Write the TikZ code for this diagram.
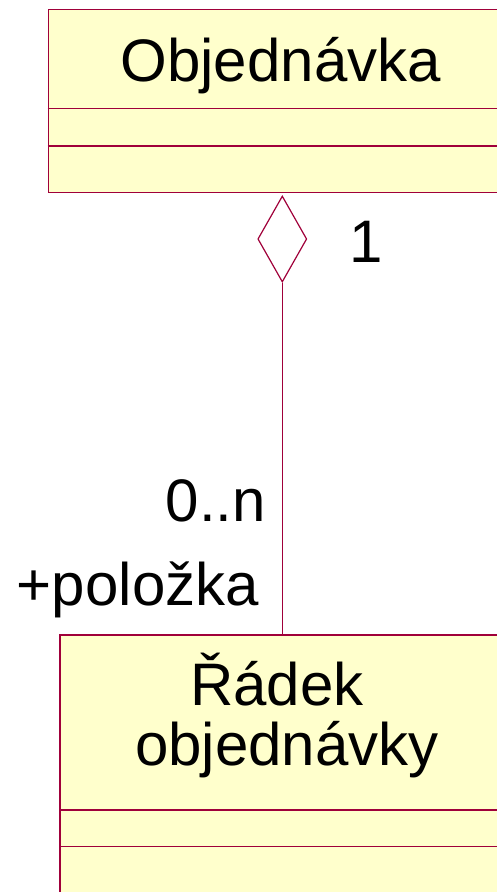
\documentclass[tikz,border=0pt]{standalone}
\usepackage{fontspec}
\setmainfont{Liberation Sans}
\usetikzlibrary{shapes.geometric}
\definecolor{umlline}{HTML}{A0003A}
\definecolor{umlfill}{HTML}{FFFFCC}
\tikzset{
  classbox/.style={draw=umlline, fill=umlfill, line width=1.5pt, rectangle, inner sep=0pt, anchor=north west},
  compline/.style={draw=umlline, line width=1.4pt},
  lbl/.style={inner sep=0pt, font=\fontsize{60}{60}\selectfont, text=black},
  aggdiamond/.style={draw=umlline, fill=white, line width=1.2pt, diamond, inner sep=0pt, minimum width=49pt, minimum height=86pt},
  assoc/.style={draw=umlline, line width=1.2pt}
}
\begin{document}
\begin{tikzpicture}[x=1pt,y=-1pt]
\useasboundingbox (0,0) rectangle (497,892);
\clip (0,0) rectangle (497,892);

% class Objednavka
\node[classbox, minimum width=465.5pt, minimum height=183pt] (obj) at (47.5,8.5) {};
\coordinate (objc1) at (47.5,108.5);
\coordinate (objc2) at (47.5,146);
\draw[compline] (objc1) -- ++(465.5,0);
\draw[compline] (objc2) -- ++(465.5,0);
\node[lbl, anchor=base] (objname) at (280.7,81) {Objednávka};

% class Radek objednavky
\node[classbox, minimum width=454pt, minimum height=300pt] (rad) at (59.3,634) {};
\coordinate (radc1) at (59.3,810);
\coordinate (radc2) at (59.3,846.7);
\draw[compline] (radc1) -- ++(454,0);
\draw[compline] (radc2) -- ++(454,0);
\node[lbl, anchor=base] (radname1) at (277,705) {Řádek};
\node[lbl, anchor=base] (radname2) at (287,765) {objednávky};

% aggregation
\node[aggdiamond] (agg) at (282.3,239) {};
\draw[assoc] (agg.south) -- (rad.north -| agg.south);

% multiplicities and role
\node[lbl, anchor=base] (mult1) at (366,262.7) {1};
\node[lbl, anchor=base east] (multn) at (266,521.7) {0..n};
\node[lbl, anchor=base east] (role) at (259,605) {+položka};
\end{tikzpicture}
\end{document}
